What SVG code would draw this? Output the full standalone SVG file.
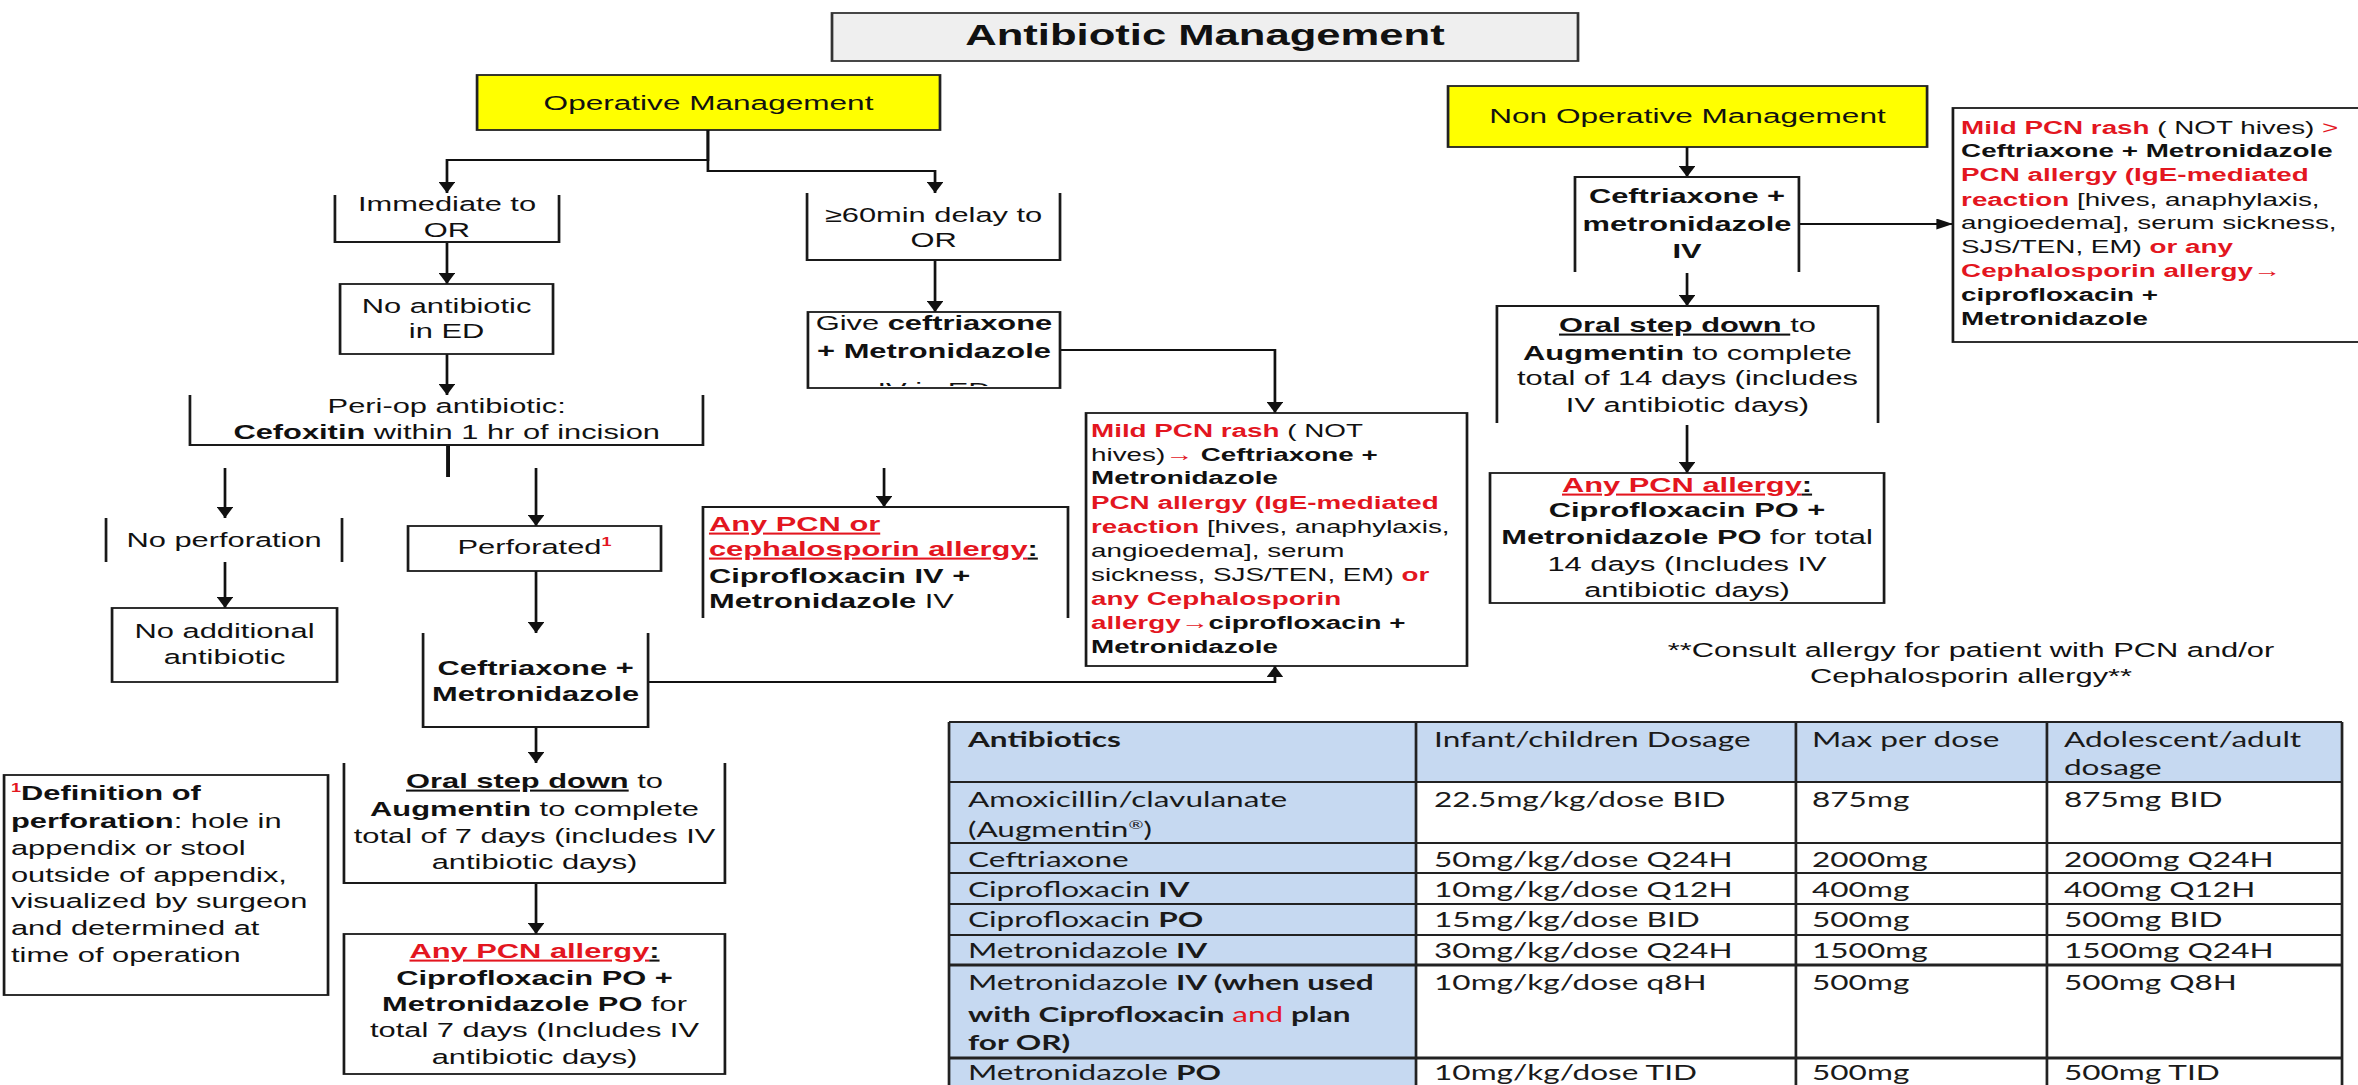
<svg xmlns="http://www.w3.org/2000/svg" width="2358" height="1085" viewBox="0 0 2358 1085">
<style>
.t{font-family:"Liberation Sans",Arial,"DejaVu Sans",sans-serif;font-size:20.5px;fill:#111}
.s{font-size:18.5px}
.c{text-anchor:middle}
.b{font-weight:bold}
.r{fill:#e3161f}
.u{text-decoration:underline}
.box{fill:#fff;stroke:#1a1a1a;stroke-width:1.8}
.open{fill:none;stroke:#1a1a1a;stroke-width:1.8}
.con{fill:none;stroke:#111;stroke-width:1.8}
.tb{font-family:Lato,"Liberation Sans",sans-serif;font-size:21px;fill:#1a1a1a}
.grid{stroke:#222;stroke-width:1.8;fill:none}
</style>
<defs>
<marker id="arr" markerUnits="userSpaceOnUse" markerWidth="11" markerHeight="11" refX="11" refY="5.5" orient="auto" viewBox="0 0 11 11"><path d="M0,0 L11,5.5 L0,11 z" fill="#111"/></marker>
<clipPath id="clipGive"><rect x="537" y="300" width="168" height="86"/></clipPath>
</defs>
<rect width="2358" height="1085" fill="#fff"/>
<g transform="scale(1.504,1)">

<g id="title">
<rect x="553.2" y="13" width="496" height="48" fill="#efefef" stroke="#333" stroke-width="1.8"/>
<text class="t c b" x="801.2" y="45" style="font-size:29px">Antibiotic Management</text>
</g>

<g id="operative">
<rect x="317.2" y="75" width="307.8" height="55" fill="#ffff00" stroke="#222" stroke-width="1.8"/>
<text class="t c" x="471.1" y="110" style="font-size:21px">Operative Management</text>
</g>

<g id="nonoperative">
<rect x="962.8" y="86" width="318.5" height="61" fill="#ffff00" stroke="#222" stroke-width="1.8"/>
<text class="t c" x="1122" y="123.5" style="font-size:21px">Non Operative Management</text>
</g>

<g id="connectors">
<path class="con" d="M470.7,130 V160 H297.2 V193" marker-end="url(#arr)"/>
<path class="con" d="M470.7,130 V171 H621.7 V193" marker-end="url(#arr)"/>
<path class="con" d="M297.2,242 V284" marker-end="url(#arr)"/>
<path class="con" d="M297.2,354 V395" marker-end="url(#arr)"/>
<path class="con" d="M297.9,445 V477" style="stroke-width:2.6"/>
<path class="con" d="M149.6,468 V518" marker-end="url(#arr)"/>
<path class="con" d="M356.4,468 V526" marker-end="url(#arr)"/>
<path class="con" d="M149.6,562 V608" marker-end="url(#arr)"/>
<path class="con" d="M356.4,571 V633" marker-end="url(#arr)"/>
<path class="con" d="M356.4,727 V763" marker-end="url(#arr)"/>
<path class="con" d="M356.4,883 V934" marker-end="url(#arr)"/>
<path class="con" d="M430.9,682 H847.7 V666" marker-end="url(#arr)"/>
<path class="con" d="M621.7,260 V312" marker-end="url(#arr)"/>
<path class="con" d="M704.8,350 H847.7 V413" marker-end="url(#arr)"/>
<path class="con" d="M587.8,468 V507" marker-end="url(#arr)"/>
<path class="con" d="M1121.7,147 V177" marker-end="url(#arr)"/>
<path class="con" d="M1196.1,224 H1298.5" marker-end="url(#arr)"/>
<path class="con" d="M1121.7,273 V306" marker-end="url(#arr)"/>
<path class="con" d="M1121.7,425 V473" marker-end="url(#arr)"/>
</g>

<g id="immediate">
<path class="open" d="M222.7,195 V242 H371.7 V195"/>
<text class="t c" x="297.2" y="211">Immediate to</text>
<text class="t c" x="297.2" y="237">OR</text>
</g>

<g id="no-antibiotic-ed">
<rect class="box" x="226.1" y="284" width="141.6" height="70"/>
<text class="t c" x="296.9" y="313">No antibiotic</text>
<text class="t c" x="296.9" y="338">in ED</text>
</g>

<g id="periop">
<path class="open" d="M126.3,395 V445 H467.4 V395"/>
<text class="t c" x="297" y="413">Peri-op antibiotic:</text>
<text class="t c" x="297" y="439"><tspan class="b">Cefoxitin</tspan> within 1 hr of incision</text>
</g>

<g id="no-perforation">
<path class="open" d="M70.5,518 V562 M227.4,518 V562"/>
<text class="t c" x="149" y="547">No perforation</text>
</g>

<g id="no-additional">
<rect class="box" x="74.5" y="608" width="149.6" height="74"/>
<text class="t c" x="149.3" y="638">No additional</text>
<text class="t c" x="149.3" y="664">antibiotic</text>
</g>

<g id="perforated">
<rect class="box" x="271.3" y="526" width="168.2" height="45"/>
<text class="t c" x="355.4" y="554">Perforated<tspan class="r b" style="font-size:12px" dy="-8">1</tspan></text>
</g>

<g id="ceftriaxone-op">
<path class="open" d="M281.3,633 V727 H430.9 V633"/>
<text class="t c b" x="356.1" y="675">Ceftriaxone +</text>
<text class="t c b" x="356.1" y="701">Metronidazole</text>
</g>

<g id="oral-op">
<path class="open" d="M228.7,763 V883 H482 V763"/>
<text class="t c" x="355.4" y="788"><tspan class="b u">Oral step down</tspan> to</text>
<text class="t c" x="355.4" y="816"><tspan class="b">Augmentin</tspan> to complete</text>
<text class="t c" x="355.4" y="843">total of 7 days (includes IV</text>
<text class="t c" x="355.4" y="869">antibiotic days)</text>
</g>

<g id="pcn-op">
<rect class="box" x="228.7" y="934" width="253.3" height="140"/>
<text class="t c" x="355.4" y="958"><tspan class="r b u">Any PCN allergy</tspan><tspan class="b u">:</tspan></text>
<text class="t c b" x="355.4" y="985">Ciprofloxacin PO +</text>
<text class="t c" x="355.4" y="1011"><tspan class="b">Metronidazole PO</tspan> for</text>
<text class="t c" x="355.4" y="1037">total 7 days (Includes IV</text>
<text class="t c" x="355.4" y="1064">antibiotic days)</text>
</g>

<g id="definition">
<rect class="box" x="2.7" y="775" width="215.4" height="220"/>
<text class="t" x="7.3" y="800"><tspan class="r b" style="font-size:12px" dy="-8">1</tspan><tspan class="b" dy="8">Definition of</tspan></text>
<text class="t" x="7.3" y="828"><tspan class="b">perforation</tspan>: hole in</text>
<text class="t" x="7.3" y="855">appendix or stool</text>
<text class="t" x="7.3" y="882">outside of appendix,</text>
<text class="t" x="7.3" y="908">visualized by surgeon</text>
<text class="t" x="7.3" y="935">and determined at</text>
<text class="t" x="7.3" y="962">time of operation</text>
</g>

<g id="delay">
<path class="open" d="M536.6,193 V260 H704.8 V193"/>
<text class="t c" x="620.7" y="222">≥60min delay to</text>
<text class="t c" x="620.7" y="247">OR</text>
</g>

<g id="give">
<rect class="box" x="537.2" y="312" width="167.6" height="76"/>
<text class="t c" x="621" y="330">Give <tspan class="b">ceftriaxone</tspan></text>
<text class="t c b" x="621" y="358">+ Metronidazole</text>
<text class="t c" x="621" y="397.5" clip-path="url(#clipGive)">IV in ED</text>
</g>

<g id="pcn-ceph-allergy">
<path class="open" d="M467.4,618 V507 H710.1 V618"/>
<text class="t b" x="471.4" y="531"><tspan class="r u">Any PCN or</tspan></text>
<text class="t b" x="471.4" y="556"><tspan class="r u">cephalosporin allergy</tspan><tspan class="u">:</tspan></text>
<text class="t b" x="471.4" y="583">Ciprofloxacin IV +</text>
<text class="t" x="471.4" y="608"><tspan class="b">Metronidazole</tspan> IV</text>
</g>

<g id="mild-rash-op">
<rect class="box" x="722.1" y="413" width="253.3" height="253"/>
<text class="t s" x="725.4" y="437"><tspan class="r b">Mild PCN rash</tspan> ( NOT</text>
<text class="t s" x="725.4" y="461">hives)<tspan class="r">→</tspan><tspan class="b"> Ceftriaxone +</tspan></text>
<text class="t s b" x="725.4" y="484">Metronidazole</text>
<text class="t s b r" x="725.4" y="509">PCN allergy (IgE-mediated</text>
<text class="t s" x="725.4" y="533"><tspan class="r b">reaction</tspan> [hives, anaphylaxis,</text>
<text class="t s" x="725.4" y="557">angioedema], serum</text>
<text class="t s" x="725.4" y="581">sickness, SJS/TEN, EM)<tspan class="r b"> or</tspan></text>
<text class="t s b r" x="725.4" y="605">any Cephalosporin</text>
<text class="t s b" x="725.4" y="629"><tspan class="r">allergy→</tspan>ciprofloxacin +</text>
<text class="t s b" x="725.4" y="653">Metronidazole</text>
</g>

<g id="ceftriaxone-nonop">
<path class="open" d="M1047.2,272 V177 H1196.1 V272"/>
<text class="t c b" x="1121.7" y="203">Ceftriaxone +</text>
<text class="t c b" x="1121.7" y="231">metronidazole</text>
<text class="t c b" x="1121.7" y="258">IV</text>
</g>

<g id="mild-rash-nonop">
<rect class="box" x="1298.5" y="108" width="280" height="234"/>
<text class="t s" x="1303.9" y="134"><tspan class="r b">Mild PCN rash</tspan> ( NOT hives) <tspan class="r">&gt;</tspan></text>
<text class="t s b" x="1303.9" y="157">Ceftriaxone + Metronidazole</text>
<text class="t s b r" x="1303.9" y="181">PCN allergy (IgE-mediated</text>
<text class="t s" x="1303.9" y="206"><tspan class="r b">reaction</tspan> [hives, anaphylaxis,</text>
<text class="t s" x="1303.9" y="229">angioedema], serum sickness,</text>
<text class="t s" x="1303.9" y="253">SJS/TEN, EM)<tspan class="r b"> or any</tspan></text>
<text class="t s b r" x="1303.9" y="277">Cephalosporin allergy→</text>
<text class="t s b" x="1303.9" y="301">ciprofloxacin +</text>
<text class="t s b" x="1303.9" y="325">Metronidazole</text>
</g>

<g id="oral-nonop">
<path class="open" d="M995.3,423 V306 H1248.7 V423"/>
<text class="t c" x="1122" y="332"><tspan class="b u">Oral step down </tspan>to</text>
<text class="t c" x="1122" y="360"><tspan class="b">Augmentin</tspan> to complete</text>
<text class="t c" x="1122" y="385">total of 14 days (includes</text>
<text class="t c" x="1122" y="412">IV antibiotic days)</text>
</g>

<g id="pcn-nonop">
<rect class="box" x="990.7" y="473" width="262" height="130"/>
<text class="t c" x="1121.7" y="492"><tspan class="r b u">Any PCN allergy</tspan><tspan class="b u">:</tspan></text>
<text class="t c b" x="1121.7" y="517">Ciprofloxacin PO +</text>
<text class="t c" x="1121.7" y="544"><tspan class="b">Metronidazole PO</tspan> for total</text>
<text class="t c" x="1121.7" y="571">14 days (Includes IV</text>
<text class="t c" x="1121.7" y="597">antibiotic days)</text>
</g>

<g id="consult-note">
<text class="t c" x="1310.5" y="657">**Consult allergy for patient with PCN and/or</text>
<text class="t c" x="1310.5" y="683">Cephalosporin allergy**</text>
</g>

<g id="dosing-table">
<rect x="631" y="722" width="926.2" height="370" fill="#fff"/>
<rect x="631" y="722" width="926.2" height="60" fill="#c6d9f1"/>
<rect x="631" y="782" width="310.5" height="310" fill="#c6d9f1"/>
<path class="grid" d="M631,722 H1557.2 M631,782 H1557.2 M631,843 H1557.2 M631,873 H1557.2 M631,904 H1557.2 M631,935 H1557.2"/>
<path class="grid" d="M631,965 H1557.2 M631,1058 H1557.2" style="stroke-width:3.2"/>
<path class="grid" d="M631,722 V1090 M941.5,722 V1090 M1194.1,722 V1090 M1361,722 V1090 M1557.2,722 V1090"/>
<text class="tb" x="643.6" y="747" font-weight="bold">Antibiotics</text>
<text class="tb" x="953.5" y="747">Infant/children Dosage</text>
<text class="tb" x="1204.8" y="747">Max per dose</text>
<text class="tb" x="1372.3" y="747">Adolescent/adult</text>
<text class="tb" x="1372.3" y="775">dosage</text>
<text class="tb" x="643.6" y="807">Amoxicillin/clavulanate</text>
<text class="tb" x="643.6" y="837">(Augmentin<tspan style="font-size:12px" dy="-8">®</tspan><tspan dy="8">)</tspan></text>
<text class="tb" x="953.5" y="807">22.5mg/kg/dose BID</text>
<text class="tb" x="1204.8" y="807">875mg</text>
<text class="tb" x="1372.3" y="807">875mg BID</text>
<text class="tb" x="643.6" y="867">Ceftriaxone</text>
<text class="tb" x="953.5" y="867">50mg/kg/dose Q24H</text>
<text class="tb" x="1204.8" y="867">2000mg</text>
<text class="tb" x="1372.3" y="867">2000mg Q24H</text>
<text class="tb" x="643.6" y="897">Ciprofloxacin <tspan font-weight="bold">IV</tspan></text>
<text class="tb" x="953.5" y="897">10mg/kg/dose Q12H</text>
<text class="tb" x="1204.8" y="897">400mg</text>
<text class="tb" x="1372.3" y="897">400mg Q12H</text>
<text class="tb" x="643.6" y="927">Ciprofloxacin <tspan font-weight="bold">PO</tspan></text>
<text class="tb" x="953.5" y="927">15mg/kg/dose BID</text>
<text class="tb" x="1204.8" y="927">500mg</text>
<text class="tb" x="1372.3" y="927">500mg BID</text>
<text class="tb" x="643.6" y="958">Metronidazole <tspan font-weight="bold">IV</tspan></text>
<text class="tb" x="953.5" y="958">30mg/kg/dose Q24H</text>
<text class="tb" x="1204.8" y="958">1500mg</text>
<text class="tb" x="1372.3" y="958">1500mg Q24H</text>
<text class="tb" x="643.6" y="990">Metronidazole <tspan font-weight="bold">IV (when used</tspan></text>
<text class="tb" x="643.6" y="1022"><tspan font-weight="bold">with Ciprofloxacin </tspan><tspan fill="#e3161f">and</tspan><tspan font-weight="bold"> plan</tspan></text>
<text class="tb" x="643.6" y="1050" font-weight="bold">for OR)</text>
<text class="tb" x="953.5" y="990">10mg/kg/dose q8H</text>
<text class="tb" x="1204.8" y="990">500mg</text>
<text class="tb" x="1372.3" y="990">500mg Q8H</text>
<text class="tb" x="643.6" y="1080">Metronidazole <tspan font-weight="bold">PO</tspan></text>
<text class="tb" x="953.5" y="1080">10mg/kg/dose TID</text>
<text class="tb" x="1204.8" y="1080">500mg</text>
<text class="tb" x="1372.3" y="1080">500mg TID</text>
</g>

</g>
</svg>
